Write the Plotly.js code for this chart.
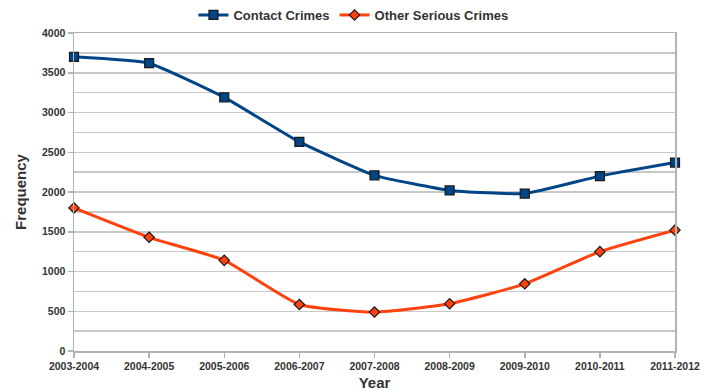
<!DOCTYPE html>
<html>
<head>
<meta charset="utf-8">
<script src="https://cdn.plot.ly/plotly-3.0.1.min.js"></script>
<style>
  html, body { margin: 0; padding: 0; background: #fff; }
  #chart { width: 714px; height: 392px; }
</style>
</head>
<body>
<div id="chart"></div>
<script>
// Reporting years
const years = ["2003-2004", "2004-2005", "2005-2006", "2006-2007", "2007-2008",
               "2008-2009", "2009-2010", "2010-2011", "2011-2012"];

// Number of recorded cases per year
const contactCrimes = [3700, 3620, 3190, 2630, 2210, 2020, 1980, 2200, 2370];
const otherSeriousCrimes = [1800, 1430, 1140, 585, 490, 595, 845, 1250, 1520];

// Y axis labels
const yTickValues = [0, 500, 1000, 1500, 2000, 2500, 3000, 3500, 4000];

const fontFamily = "'Liberation Sans', Arial, sans-serif";

const traces = [
  {
    x: years, y: contactCrimes, name: "Contact Crimes",
    type: "scatter", mode: "lines+markers", cliponaxis: false,
    line: { color: "#004586", width: 3, shape: "spline", smoothing: 0.4 },
    marker: { symbol: "square", size: 9, color: "#004586",
              line: { color: "#1a1a1a", width: 1.2 } }
  },
  {
    x: years, y: otherSeriousCrimes, name: "Other Serious Crimes",
    type: "scatter", mode: "lines+markers", cliponaxis: false,
    line: { color: "#ff420e", width: 3, shape: "spline", smoothing: 0.5 },
    marker: { symbol: "diamond", size: 8, color: "#ff420e",
              line: { color: "#1a1a1a", width: 1.2 } }
  }
];

const layout = {
  width: 714, height: 392,
  margin: { l: 74, r: 39, t: 33, b: 41 },
  paper_bgcolor: "#ffffff", plot_bgcolor: "#ffffff",
  font: { family: fontFamily, color: "#333333" },
  showlegend: true,
  legend: {
    orientation: "h", x: 0.465, xanchor: "center",
    yref: "container", y: 1.0, yanchor: "top",
    font: { family: fontFamily, size: 13, color: "#333333", weight: "bold" },
    itemwidth: 30, tracegroupgap: 0
  },
  xaxis: {
    type: "category",
    range: [0, years.length - 1],
    showline: true, linecolor: "#b3b3b3", linewidth: 1.5, mirror: true,
    showgrid: false, zeroline: false,
    ticks: "outside", ticklen: 5, tickcolor: "#b3b3b3", tickwidth: 1.5,
    tickfont: { family: fontFamily, size: 10.5, color: "#333333", weight: "bold" },
    title: { text: "Year", standoff: 6,
             font: { family: fontFamily, size: 15, color: "#333333", weight: "bold" } }
  },
  yaxis: {
    range: [0, 4000],
    tickvals: yTickValues,
    showline: true, linecolor: "#b3b3b3", linewidth: 1.5, mirror: true,
    showgrid: true, gridcolor: "#c8c8c8", gridwidth: 1.5, zeroline: false,
    ticks: "outside", ticklen: 5, tickcolor: "#b3b3b3", tickwidth: 1.5,
    minor: { dtick: 250, showgrid: true, gridcolor: "#c8c8c8", gridwidth: 1.5, ticks: "" },
    tickfont: { family: fontFamily, size: 10.5, color: "#333333", weight: "bold" },
    title: { text: "Frequency", standoff: 12,
             font: { family: fontFamily, size: 15, color: "#333333", weight: "bold" } }
  }
};

Plotly.newPlot("chart", traces, layout, { displayModeBar: false, staticPlot: true });
</script>
</body>
</html>
